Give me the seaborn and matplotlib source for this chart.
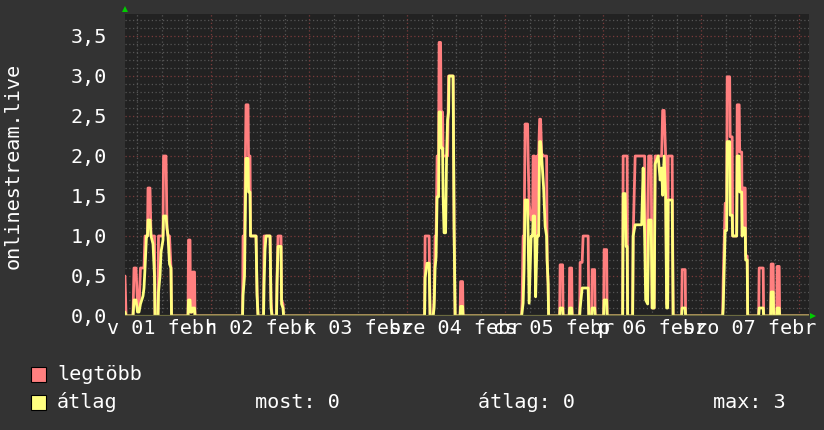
import matplotlib
matplotlib.use("Agg")
import matplotlib.pyplot as plt
import seaborn as sns
import pandas as pd
from matplotlib.patches import Rectangle

# ---- data (hours since 2026-02-01 00:00) ----
hours = [2.94, 3.20, 4.90, 5.14, 5.63, 6.00, 6.37, 6.73, 7.35, 7.59, 7.84, 8.20, 8.45, 8.57, 9.06, 9.31,
         9.80, 10.16, 10.29, 11.02, 11.14, 11.51, 11.76, 12.24, 12.37, 12.98, 13.22, 13.47, 13.84, 14.20,
         14.33, 18.37, 18.49, 18.86, 18.98, 19.35, 19.47, 19.96, 20.08,
         31.72, 31.84, 32.20, 32.57, 33.06, 33.18, 33.55, 33.67, 35.02, 35.27, 35.51, 36.86, 36.98, 37.22,
         37.47, 38.45, 38.69, 38.94, 40.04, 40.16, 40.41, 41.14, 41.27, 41.63, 41.76,
         76.29, 76.41, 76.90, 77.39, 77.63, 78.37, 78.61, 78.86, 79.10, 79.35, 79.71, 79.84, 80.20, 80.33,
         80.69, 80.82, 81.06, 81.43, 81.67, 81.92, 82.16, 82.29, 83.27, 83.51, 83.76, 84.98, 85.10, 85.59,
         85.71,
         100.04, 100.16, 100.41, 100.65, 100.90, 101.51, 101.63, 101.88, 102.37, 102.73, 102.86, 103.22,
         103.47, 103.84, 104.20, 104.45, 104.69, 104.94, 105.43, 105.80, 106.16, 106.29, 106.53, 106.65,
         109.35, 109.47, 110.08, 110.20, 111.68, 111.80, 112.29, 112.41, 114.25, 114.37, 114.86, 115.10,
         116.33, 116.50, 117.19, 117.31, 117.92, 118.04,
         120.12, 120.24, 120.86, 120.98, 124.78, 124.90, 125.39, 125.63, 125.88, 126.00, 127.22, 127.35,
         127.84, 129.43, 129.80, 130.16, 130.41, 130.90, 131.14, 131.76, 132.00, 132.49, 132.73, 133.47,
         133.96, 134.33, 134.57, 134.94, 135.30, 135.55, 135.80, 135.92, 136.90, 137.14, 139.22, 139.35,
         140.08, 140.20,
         149.27, 149.39, 149.88, 150.24, 150.37, 150.98, 151.10, 151.59, 151.71, 152.69, 152.82, 153.31,
         153.43, 153.92, 154.04, 154.29, 154.78, 154.90, 155.27, 155.39, 158.08, 158.20, 159.18, 159.30,
         161.02, 161.14, 161.63, 161.75, 162.49, 162.61, 163.10, 163.22, 170.40]

legtobb = [0.5, 0, 0, 0.6, 0.6, 0.15, 0.1, 0.6, 0.6, 0.6, 1.0, 1.0, 1.0, 1.6, 1.6, 1.0,
           1.0, 1.0, 0, 0, 1.0, 1.0, 1.0, 1.0, 2.0, 2.0, 1.1, 1.0, 1.0, 0.6,
           0, 0, 0.95, 0.95, 0.05, 0.05, 0.55, 0.55, 0,
           0, 1.0, 1.0, 2.64, 2.64, 2.0, 2.0, 1.0, 1.0, 0.3, 0, 0, 1.0, 1.0,
           1.0, 1.0, 0.2, 0, 0, 0.5, 1.0, 1.0, 0.2, 0.15, 0,
           0, 1.0, 1.0, 1.0, 0, 0, 0.2, 1.0, 1.0, 2.0, 2.0, 3.42, 3.42, 2.55,
           2.55, 2.0, 2.0, 2.0, 2.0, 2.0, 3.0, 3.0, 3.0, 1.1, 0, 0, 0.43, 0.43,
           0,
           0, 0.2, 1.0, 1.0, 2.4, 2.4, 2.0, 1.4, 1.2, 1.2, 2.0, 2.0,
           0.6, 2.0, 2.0, 2.46, 2.46, 2.03, 2.0, 2.0, 2.0, 0.7, 0.4, 0,
           0, 0.64, 0.64, 0, 0, 0.6, 0.6, 0, 0, 0.67, 0.67, 1.0,
           1.0, 0, 0, 0.58, 0.58, 0,
           0, 0.83, 0.83, 0, 0, 2.0, 2.0, 2.0, 2.0, 0, 0, 1.0,
           2.0, 2.0, 2.0, 2.0, 0.58, 0.58, 2.0, 2.0, 0.1, 0.1, 2.0, 2.0,
           2.0, 2.0, 2.57, 2.57, 2.0, 0.15, 0.15, 2.0, 2.0, 0, 0, 0.58,
           0.58, 0,
           0, 0.43, 1.41, 1.41, 2.99, 2.99, 2.24, 2.24, 1.0, 1.0, 2.64, 2.64,
           2.05, 2.05, 1.0, 1.6, 1.6, 0.75, 0.75, 0, 0, 0.6, 0.6, 0,
           0, 0.65, 0.65, 0, 0, 0.62, 0.62, 0, 0]

atlag = [0.05, 0, 0, 0.2, 0.2, 0.05, 0.05, 0.15, 0.25, 0.35, 0.6, 1.0, 1.0, 1.2, 1.2, 1.0,
         0.9, 0.5, 0, 0, 0.3, 0.5, 0.8, 0.95, 1.25, 1.25, 1.1, 1.0, 0.65, 0.6,
         0, 0, 0.2, 0.2, 0.05, 0.05, 0.1, 0.1, 0,
         0, 0.26, 0.5, 1.97, 1.97, 1.55, 1.55, 1.0, 1.0, 0.26, 0, 0, 0.4, 0.83,
         1.0, 1.0, 0.1, 0, 0, 0.4, 0.87, 0.87, 0.15, 0.1, 0,
         0, 0.48, 0.66, 0.66, 0, 0, 0.1, 0.6, 0.74, 1.49, 1.49, 2.55, 2.55, 2.1,
         2.1, 1.5, 1.04, 1.04, 2.0, 2.45, 2.55, 3.0, 3.0, 1.1, 0, 0, 0.12, 0.12,
         0,
         0, 0.05, 0.16, 0.6, 1.45, 1.45, 1.0, 0.16, 1.0, 1.0, 1.25, 1.25,
         0.24, 1.0, 1.0, 2.18, 2.18, 2.0, 1.6, 1.12, 1.0, 0.7, 0.4, 0,
         0, 0.1, 0.1, 0, 0, 0.1, 0.1, 0, 0, 0.1, 0.35, 0.35,
         0.35, 0, 0, 0.1, 0.1, 0,
         0, 0.2, 0.2, 0, 0, 1.53, 1.53, 0.87, 0.87, 0, 0, 1.0,
         1.14, 1.14, 1.85, 1.0, 0.2, 0.15, 1.2, 1.2, 0.1, 0.1, 1.9, 2.0,
         1.7, 1.85, 1.51, 2.0, 1.5, 0.1, 0.1, 1.45, 1.45, 0, 0, 0.1,
         0.1, 0,
         0, 0.1, 1.07, 1.07, 2.18, 2.18, 1.26, 1.26, 1.0, 1.0, 2.0, 2.0,
         1.55, 1.55, 1.0, 1.1, 1.1, 0.7, 0.7, 0, 0, 0.1, 0.1, 0,
         0, 0.3, 0.3, 0, 0, 0.1, 0.1, 0, 0]

day_labels = ["v 01 febr", "h 02 febr", "k 03 febr", "sze 04 febr",
              "cs 05 febr", "p 06 febr", "szo 07 febr"]
y_ticks = [0.0, 0.5, 1.0, 1.5, 2.0, 2.5, 3.0, 3.5]
y_tick_labels = ["0,0", "0,5", "1,0", "1,5", "2,0", "2,5", "3,0", "3,5"]
series_names = ["legtöbb", "átlag"]
series_colors = ["#ff7f7f", "#ffff7f"]
stat_texts = ["most: 0", "átlag: 0", "max: 3"]
y_title = "onlinestream.live"

# ---- style ----
sns.set_theme(style="dark")
plt.rcParams["font.family"] = ["DejaVu Sans Mono", "DejaVu Sans"]
CANVAS = "#333333"
PLOTBG = "#222222"
FS = 14.5

df = pd.DataFrame({"hours": hours, series_names[0]: legtobb, series_names[1]: atlag})

W, H = 824, 430
fig = plt.figure(figsize=(W / 100, H / 100), dpi=100, facecolor=CANVAS)
L, R, T, B = 125, 809, 14, 316
ax = fig.add_axes([L / W, 1 - B / H, (R - L) / W, (B - T) / H])
ax.set_facecolor(PLOTBG)

x0, x1 = 2.94, 170.4
y0, y1 = 0.0, 3.775
ax.set_xlim(x0, x1)
ax.set_ylim(y0, y1)

# grid
ax.grid(False)
for i in range(1, 38):
    yv = i * 0.1
    if i % 5 == 0:
        ax.axhline(yv, color="#7a3a3a", lw=0.9, ls=(0, (1, 2)), zorder=1)
    else:
        ax.axhline(yv, color="#555555", lw=0.9, ls=(0, (1, 2)), zorder=1)
for i in range(1, 29):
    xv = i * 6
    if xv > x1:
        break
    if i % 4 == 0:
        ax.axvline(xv, color="#7a3a3a", lw=0.9, ls=(0, (1, 2)), zorder=1)
    else:
        ax.axvline(xv, color="#555555", lw=0.9, ls=(0, (1, 2)), zorder=1)

sns.lineplot(data=df, x="hours", y=series_names[0], color=series_colors[0], lw=2.0,
             estimator=None, sort=False, ax=ax, zorder=3)
sns.lineplot(data=df, x="hours", y=series_names[1], color=series_colors[1], lw=2.0,
             estimator=None, sort=False, ax=ax, zorder=4)

ax.axhline(0, color="#6b6b40", lw=1.6, zorder=5)

for s in ax.spines.values():
    s.set_visible(False)

ax.set_yticks(y_ticks)
ax.set_yticklabels(y_tick_labels)
noon = [12 + 24 * i for i in range(len(day_labels))]
ax.set_xticks(noon)
ax.set_xticklabels(day_labels)
ax.tick_params(axis="y", length=0, pad=13, labelsize=FS, labelcolor="white")
ax.tick_params(axis="x", length=0, pad=2, labelsize=FS, labelcolor="white")
for lab in ax.get_xticklabels():
    lab.set_clip_on(False)
ax.set_xlabel("")
ax.set_ylabel("")

# green arrows
ax.plot([0], [1.0 + 5 / (B - T)], marker="^", color="#00cc00", ms=5, mew=0,
        transform=ax.transAxes, clip_on=False, zorder=6)
ax.plot([1.0 + 4 / (R - L)], [0], marker=">", color="#00cc00", ms=5, mew=0,
        transform=ax.transAxes, clip_on=False, zorder=6)

# y title
fig.text(13 / W, 1 - 166 / H, y_title, rotation=90, color="white", fontsize=FS,
         ha="center", va="center")

# legend
sq = 15
for k, (name, col) in enumerate(zip(series_names, series_colors)):
    cy = 374 + 28 * k
    fig.patches.append(Rectangle((31 / W, 1 - (cy + sq / 2) / H), sq / W, sq / H,
                                 transform=fig.transFigure, facecolor=col,
                                 edgecolor="black", lw=0.8))
    fig.text(57 / W, 1 - cy / H, name, color="white", fontsize=FS, ha="left", va="center")
for xs, txt in zip([255, 478, 713], stat_texts):
    fig.text(xs / W, 1 - 402 / H, txt, color="white", fontsize=FS, ha="left", va="center")

fig.savefig("out.png", dpi=100, facecolor=CANVAS)
